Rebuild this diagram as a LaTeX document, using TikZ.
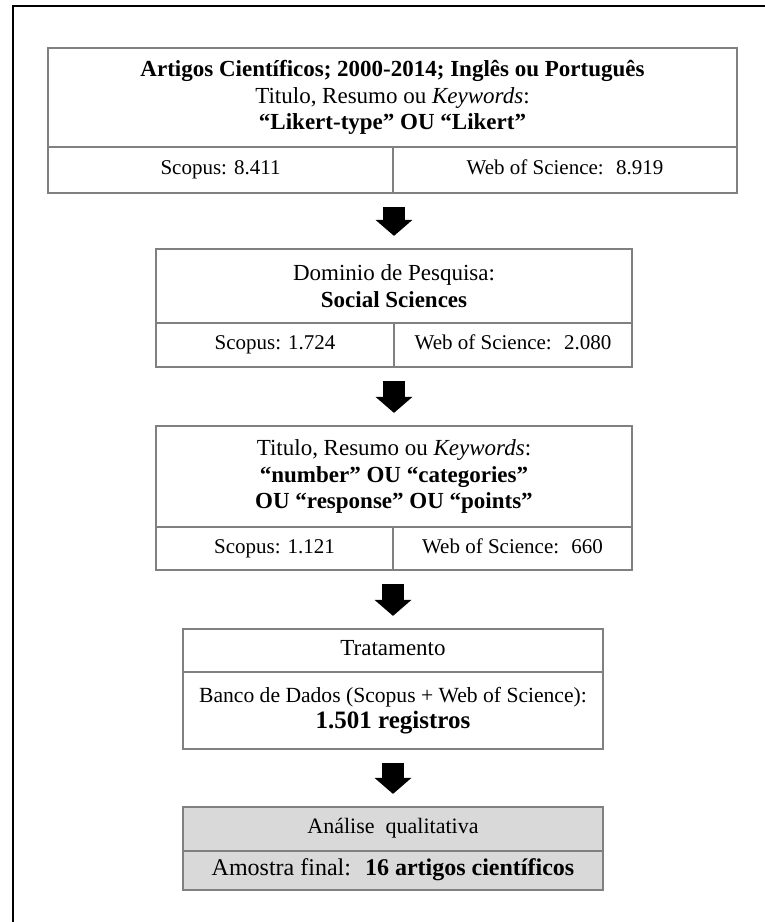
\documentclass[tikz,border=0pt]{standalone}
\usepackage{fontspec}
\setmainfont{Liberation Serif}
\usetikzlibrary{arrows.meta,positioning}
\definecolor{boxline}{HTML}{808080}
\definecolor{boxfill}{HTML}{D9D9D9}

\begin{document}
\begin{tikzpicture}[x=0.5pt,y=-0.5pt,every node/.style={font=\fontsize{11.5pt}{13.3pt}\selectfont,align=center,inner sep=0pt},cellbox/.style={draw=boxline,line width=1.1pt},oneline/.style={cellbox,text height=0.68em,text depth=0.22em},numcell/.style={oneline,font=\fontsize{10.5pt}{12pt}\selectfont},finalbox/.style={oneline,fill=boxfill},bigarrow/.style={-{Triangle[width=18pt,length=8pt]},line width=11pt,shorten <=6.5pt,shorten >=6pt}]
\useasboundingbox (0,0) rectangle (765,922);
\draw[line width=0.85pt] (13,922) -- (13,6) -- (765,6);
\node[cellbox,minimum width=344.5pt,minimum height=49.5pt] (query) at (392.5,97.5) {\textbf{Artigos Científicos; 2000-2014; Inglês ou Português}\\Titulo, Resumo ou \textit{Keywords}:\\\textbf{“Likert-type” OU “Likert”}}; \node[numcell,minimum width=172.5pt,minimum height=23pt] (scopusA) at (220.5,170) {Scopus: 8.411}; \node[numcell,minimum width=172pt,minimum height=23pt] (wosA) at (565,170) {Web of Science:~ 8.919};
\node[cellbox,minimum width=238pt,minimum height=37pt] (domain) at (394,286) {Dominio de Pesquisa:\\\textbf{Social Sciences}}; \node[numcell,minimum width=119pt,minimum height=22pt] (scopusB) at (275,345) {Scopus: 1.724}; \node[numcell,minimum width=119pt,minimum height=22pt] (wosB) at (513,345) {Web of Science:~ 2.080};
\node[cellbox,minimum width=238pt,minimum height=50.5pt] (terms) at (394,476.5) {Titulo, Resumo ou \textit{Keywords}:\\\textbf{“number” OU “categories”}\\\textbf{OU “response” OU “points”}}; \node[numcell,minimum width=118.5pt,minimum height=21.5pt] (scopusC) at (274.5,548.5) {Scopus: 1.121}; \node[numcell,minimum width=119.5pt,minimum height=21.5pt] (wosC) at (512.5,548.5) {Web of Science:~ 660};
\node[oneline,minimum width=210pt,minimum height=21.5pt] (treat) at (393,650.5) {Tratamento}; \node[cellbox,minimum width=210pt,minimum height=38.5pt] (dbase) at (393,710.5) {{\fontsize{10.8pt}{13.3pt}\selectfont Banco de Dados (Scopus + Web of Science):}\\{\fontsize{12.5pt}{13.3pt}\selectfont\textbf{1.501 registros}}};
\node[finalbox,minimum width=210pt,minimum height=22pt,font=\fontsize{11pt}{13pt}\selectfont] (quali) at (393,829) {Análise~ qualitativa}; \node[finalbox,minimum width=210pt,minimum height=19.5pt,font=\fontsize{12pt}{14pt}\selectfont] (sample) at (393,870.5) {Amostra final:~ \textbf{16 artigos científicos}};
\draw[bigarrow] (domain.north |- scopusA.south) -- (domain.north); \draw[bigarrow] (terms.north |- scopusB.south) -- (terms.north); \draw[bigarrow] (treat.north |- scopusC.south) -- (treat.north); \draw[bigarrow] (quali.north |- dbase.south) -- (quali.north);
\end{tikzpicture}
\end{document}
